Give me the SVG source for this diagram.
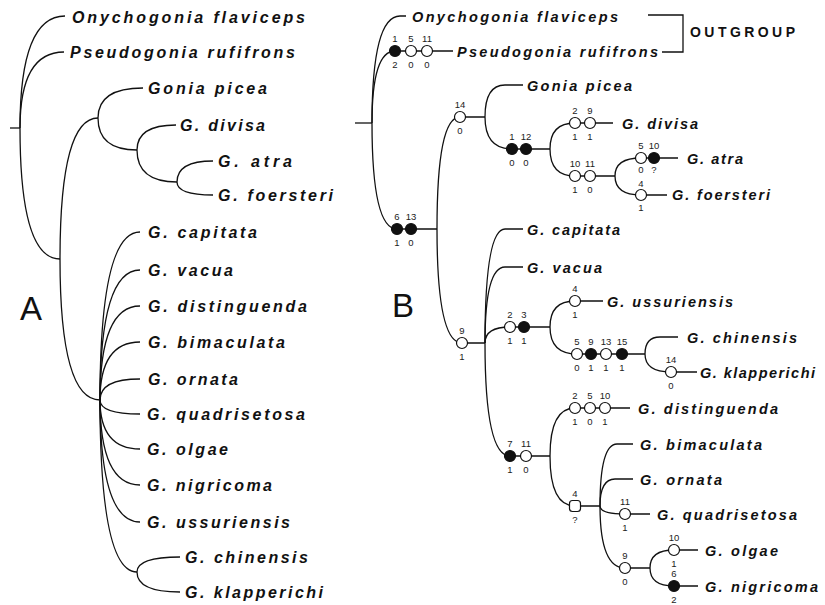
<svg xmlns="http://www.w3.org/2000/svg" width="825" height="605" viewBox="0 0 825 605">
<style>
.l{fill:none;stroke:#111;stroke-width:1.3}
.t{font-family:"Liberation Sans",Arial,sans-serif;font-weight:bold;font-style:italic;fill:#111}
.ta{font-size:16px}
.tb{font-size:14.5px}
.big{font-family:"Liberation Sans",Arial,sans-serif;font-size:33px;fill:#111}
.og{font-family:"Liberation Sans",Arial,sans-serif;font-weight:bold;font-size:14px;fill:#111}
.n{font-family:"Liberation Sans",Arial,sans-serif;font-size:9.5px;fill:#222;text-anchor:middle}
.o{fill:#fff;stroke:#111;stroke-width:1.2}
.f{fill:#111;stroke:#111;stroke-width:1.2}
</style>
<rect width="825" height="605" fill="#fff"/>

<g id="connectors-A" class="l">
<path d="M10,128 H20"/>
<path d="M20,128 Q20,16 65,16"/>
<path d="M20,128 Q20,52 64,52"/>
<path d="M20,128 Q20,259 60,259"/>
<path d="M60,259 Q60,118 98,118"/>
<path d="M60,259 Q60,400 100,400"/>
<path d="M98,118 Q98,88 143,88"/>
<path d="M98,118 Q98,150 137,150"/>
<path d="M137,150 Q137,125 176,125"/>
<path d="M137,150 Q137,182 177,182"/>
<path d="M177,182 Q177,161 213,161"/>
<path d="M177,182 Q177,195 213,195"/>
<path d="M100,400 Q100,232 140,232"/>
<path d="M100,400 Q100,270 140,270"/>
<path d="M100,400 Q100,306 140,306"/>
<path d="M100,400 Q100,342 140,342"/>
<path d="M100,400 Q100,379 140,379"/>
<path d="M100,400 Q100,414 140,414"/>
<path d="M100,400 Q100,449 140,449"/>
<path d="M100,400 Q100,485 140,485"/>
<path d="M100,400 Q100,522 140,522"/>
<path d="M100,400 Q100,572 137,572"/>
<path d="M137,572 Q137,557 180,557"/>
<path d="M137,572 Q137,592 180,592"/>
</g>

<g id="tree-A-labels" class="t ta">
<g id="a-onychogonia"><text x="72" y="22.5" textLength="233" lengthAdjust="spacing">Onychogonia flaviceps</text></g>
<g id="a-pseudogonia"><text x="70" y="58" textLength="225" lengthAdjust="spacing">Pseudogonia rufifrons</text></g>
<g id="a-picea"><text x="148" y="94" textLength="119" lengthAdjust="spacing">Gonia picea</text></g>
<g id="a-divisa"><text x="180" y="131" textLength="85" lengthAdjust="spacing">G. divisa</text></g>
<g id="a-atra"><text x="218" y="166.5" textLength="74" lengthAdjust="spacing">G. atra</text></g>
<g id="a-foersteri"><text x="218" y="200.5" textLength="115" lengthAdjust="spacing">G. foersteri</text></g>
<g id="a-capitata"><text x="148" y="238" textLength="109" lengthAdjust="spacing">G. capitata</text></g>
<g id="a-vacua"><text x="148" y="276" textLength="85" lengthAdjust="spacing">G. vacua</text></g>
<g id="a-distinguenda"><text x="148" y="312" textLength="159" lengthAdjust="spacing">G. distinguenda</text></g>
<g id="a-bimaculata"><text x="148" y="348" textLength="137" lengthAdjust="spacing">G. bimaculata</text></g>
<g id="a-ornata"><text x="148" y="385" textLength="90" lengthAdjust="spacing">G. ornata</text></g>
<g id="a-quadrisetosa"><text x="147" y="420" textLength="158" lengthAdjust="spacing">G. quadrisetosa</text></g>
<g id="a-olgae"><text x="147" y="455" textLength="81" lengthAdjust="spacing">G. olgae</text></g>
<g id="a-nigricoma"><text x="147" y="491" textLength="125" lengthAdjust="spacing">G. nigricoma</text></g>
<g id="a-ussuriensis"><text x="147" y="528" textLength="143" lengthAdjust="spacing">G. ussuriensis</text></g>
<g id="a-chinensis"><text x="185" y="563" textLength="123" lengthAdjust="spacing">G. chinensis</text></g>
<g id="a-klapperichi"><text x="185" y="598" textLength="138" lengthAdjust="spacing">G. klapperichi</text></g>
</g>
<g id="label-A"><text class="big" x="20" y="320">A</text></g>

<g id="connectors-B" class="l">
<path d="M355,123 H372"/>
<path d="M372,123 Q372,16 400,16 H406"/>
<path d="M372,123 Q372,51 395,51 H453"/>
<path d="M372,123 Q372,229 397,229 H437"/>
<path d="M437,229 Q437,117 460,117 H485"/>
<path d="M437,229 Q437,343 462,343 H485"/>
<path d="M485,117 Q485,85 505,85 H523"/>
<path d="M485,117 Q485,149 512,149 H550"/>
<path d="M550,149 Q550,123 575,123 H613"/>
<path d="M550,149 Q550,176 575,176 H615"/>
<path d="M615,176 Q615,158 641,158 H678"/>
<path d="M615,176 Q615,195 641,195 H667"/>
<path d="M485,343 Q485,229 505,229 H523"/>
<path d="M485,343 Q485,267 505,267 H523"/>
<path d="M485,343 Q485,327 510,327 H550"/>
<path d="M485,343 Q485,456 510,456 H550"/>
<path d="M550,327 Q550,301 575,301 H603"/>
<path d="M550,327 Q550,354 577,354 H645"/>
<path d="M645,354 Q645,337 660,337 H678"/>
<path d="M645,354 Q645,372 671,372 H697"/>
<path d="M550,456 Q550,408 575,408 H630"/>
<path d="M550,456 Q550,506 575,506 H600"/>
<path d="M600,506 Q600,444 617,444 H633"/>
<path d="M600,506 Q600,479 615,479 H633"/>
<path d="M600,506 Q600,514 625,514 H650"/>
<path d="M600,506 Q600,568 625,568 H650"/>
<path d="M650,568 Q650,550 674,550 H698"/>
<path d="M650,568 Q650,586 674,586 H698"/>
<path d="M648,15 H683 V52 H662"/>
</g>

<g id="tree-B-labels" class="t tb">
<g id="b-onychogonia"><text x="412" y="22" textLength="206" lengthAdjust="spacing">Onychogonia flaviceps</text></g>
<g id="b-pseudogonia"><text x="457" y="57" textLength="201" lengthAdjust="spacing">Pseudogonia rufifrons</text></g>
<g id="b-picea"><text x="527" y="91" textLength="105" lengthAdjust="spacing">Gonia picea</text></g>
<g id="b-divisa"><text x="622" y="129" textLength="76" lengthAdjust="spacing">G. divisa</text></g>
<g id="b-atra"><text x="687" y="164" textLength="56" lengthAdjust="spacing">G. atra</text></g>
<g id="b-foersteri"><text x="672" y="200" textLength="98" lengthAdjust="spacing">G. foersteri</text></g>
<g id="b-capitata"><text x="527" y="235" textLength="93" lengthAdjust="spacing">G. capitata</text></g>
<g id="b-vacua"><text x="527" y="273" textLength="75" lengthAdjust="spacing">G. vacua</text></g>
<g id="b-ussuriensis"><text x="607" y="307" textLength="126" lengthAdjust="spacing">G. ussuriensis</text></g>
<g id="b-chinensis"><text x="687" y="343" textLength="110" lengthAdjust="spacing">G. chinensis</text></g>
<g id="b-klapperichi"><text x="700" y="378" textLength="115" lengthAdjust="spacing">G. klapperichi</text></g>
<g id="b-distinguenda"><text x="638" y="414" textLength="140" lengthAdjust="spacing">G. distinguenda</text></g>
<g id="b-bimaculata"><text x="640" y="450" textLength="122" lengthAdjust="spacing">G. bimaculata</text></g>
<g id="b-ornata"><text x="640" y="485" textLength="82" lengthAdjust="spacing">G. ornata</text></g>
<g id="b-quadrisetosa"><text x="657" y="520" textLength="140" lengthAdjust="spacing">G. quadrisetosa</text></g>
<g id="b-olgae"><text x="705" y="556" textLength="73" lengthAdjust="spacing">G. olgae</text></g>
<g id="b-nigricoma"><text x="705" y="592" textLength="113" lengthAdjust="spacing">G. nigricoma</text></g>
</g>
<g id="outgroup"><text class="og" x="690" y="37" textLength="105" lengthAdjust="spacing">OUTGROUP</text></g>
<g id="label-B"><text class="big" x="392" y="317">B</text></g>

<g id="characters">
<g id="c1"><circle class="f" cx="395" cy="51" r="5.5"/><text class="n" x="395" y="41.5">1</text><text class="n" x="395" y="68">2</text></g>
<g id="c2"><circle class="o" cx="411" cy="51" r="5.5"/><text class="n" x="411" y="41.5">5</text><text class="n" x="411" y="68">0</text></g>
<g id="c3"><circle class="o" cx="427" cy="51" r="5.5"/><text class="n" x="427" y="41.5">11</text><text class="n" x="427" y="68">0</text></g>
<g id="c4"><circle class="f" cx="397" cy="229" r="5.5"/><text class="n" x="397" y="219.5">6</text><text class="n" x="397" y="246">1</text></g>
<g id="c5"><circle class="f" cx="411" cy="229" r="5.5"/><text class="n" x="411" y="219.5">13</text><text class="n" x="411" y="246">0</text></g>
<g id="c6"><circle class="o" cx="460" cy="117" r="5.5"/><text class="n" x="460" y="107.5">14</text><text class="n" x="460" y="134">0</text></g>
<g id="c7"><circle class="f" cx="512" cy="149" r="5.5"/><text class="n" x="512" y="139.5">1</text><text class="n" x="512" y="166">0</text></g>
<g id="c8"><circle class="f" cx="526" cy="149" r="5.5"/><text class="n" x="526" y="139.5">12</text><text class="n" x="526" y="166">0</text></g>
<g id="c9"><circle class="o" cx="575" cy="123" r="5.5"/><text class="n" x="575" y="113.5">2</text><text class="n" x="575" y="140">1</text></g>
<g id="c10"><circle class="o" cx="590" cy="123" r="5.5"/><text class="n" x="590" y="113.5">9</text><text class="n" x="590" y="140">1</text></g>
<g id="c11"><circle class="o" cx="575" cy="176" r="5.5"/><text class="n" x="575" y="166.5">10</text><text class="n" x="575" y="193">1</text></g>
<g id="c12"><circle class="o" cx="590" cy="176" r="5.5"/><text class="n" x="590" y="166.5">11</text><text class="n" x="590" y="193">0</text></g>
<g id="c13"><circle class="o" cx="641" cy="158" r="5.5"/><text class="n" x="641" y="148.5">5</text><text class="n" x="641" y="173">0</text></g>
<g id="c14"><circle class="f" cx="654" cy="158" r="5.5"/><text class="n" x="654" y="148.5">10</text><text class="n" x="654" y="173">?</text></g>
<g id="c15"><circle class="o" cx="641" cy="195" r="5.5"/><text class="n" x="641" y="186.5">4</text><text class="n" x="641" y="211">1</text></g>
<g id="c16"><circle class="o" cx="462" cy="343" r="5.5"/><text class="n" x="462" y="333.5">9</text><text class="n" x="462" y="360">1</text></g>
<g id="c17"><circle class="o" cx="510" cy="327" r="5.5"/><text class="n" x="510" y="317.5">2</text><text class="n" x="510" y="344">1</text></g>
<g id="c18"><circle class="f" cx="524" cy="327" r="5.5"/><text class="n" x="524" y="317.5">3</text><text class="n" x="524" y="344">1</text></g>
<g id="c19"><circle class="o" cx="575" cy="301" r="5.5"/><text class="n" x="575" y="291.5">4</text><text class="n" x="575" y="318">1</text></g>
<g id="c20"><circle class="o" cx="577" cy="354" r="5.5"/><text class="n" x="577" y="344.5">5</text><text class="n" x="577" y="371">0</text></g>
<g id="c21"><circle class="f" cx="591" cy="354" r="5.5"/><text class="n" x="591" y="344.5">9</text><text class="n" x="591" y="371">1</text></g>
<g id="c22"><circle class="o" cx="606" cy="354" r="5.5"/><text class="n" x="606" y="344.5">13</text><text class="n" x="606" y="371">1</text></g>
<g id="c23"><circle class="f" cx="622" cy="354" r="5.5"/><text class="n" x="622" y="344.5">15</text><text class="n" x="622" y="371">1</text></g>
<g id="c24"><circle class="o" cx="671" cy="372" r="5.5"/><text class="n" x="671" y="362.5">14</text><text class="n" x="671" y="389">0</text></g>
<g id="c25"><circle class="f" cx="510" cy="456" r="5.5"/><text class="n" x="510" y="446.5">7</text><text class="n" x="510" y="473">1</text></g>
<g id="c26"><circle class="o" cx="526" cy="456" r="5.5"/><text class="n" x="526" y="446.5">11</text><text class="n" x="526" y="473">0</text></g>
<g id="c27"><circle class="o" cx="575" cy="408" r="5.5"/><text class="n" x="575" y="398.5">2</text><text class="n" x="575" y="425">1</text></g>
<g id="c28"><circle class="o" cx="590" cy="408" r="5.5"/><text class="n" x="590" y="398.5">5</text><text class="n" x="590" y="425">0</text></g>
<g id="c29"><circle class="o" cx="605" cy="408" r="5.5"/><text class="n" x="605" y="398.5">10</text><text class="n" x="605" y="425">1</text></g>
<g id="c30"><rect class="o" x="569.5" y="500.5" width="11" height="11" rx="3"/><text class="n" x="575" y="496.5">4</text><text class="n" x="575" y="523">?</text></g>
<g id="c31"><circle class="o" cx="625" cy="514" r="5.5"/><text class="n" x="625" y="504.5">11</text><text class="n" x="625" y="531">1</text></g>
<g id="c32"><circle class="o" cx="625" cy="568" r="5.5"/><text class="n" x="625" y="558.5">9</text><text class="n" x="625" y="585">0</text></g>
<g id="c33"><circle class="o" cx="674" cy="550" r="5.5"/><text class="n" x="674" y="540.5">10</text><text class="n" x="674" y="567">1</text></g>
<g id="c34"><circle class="f" cx="674" cy="586" r="5.5"/><text class="n" x="674" y="576.5">6</text><text class="n" x="674" y="603">2</text></g>
</g>
</svg>
